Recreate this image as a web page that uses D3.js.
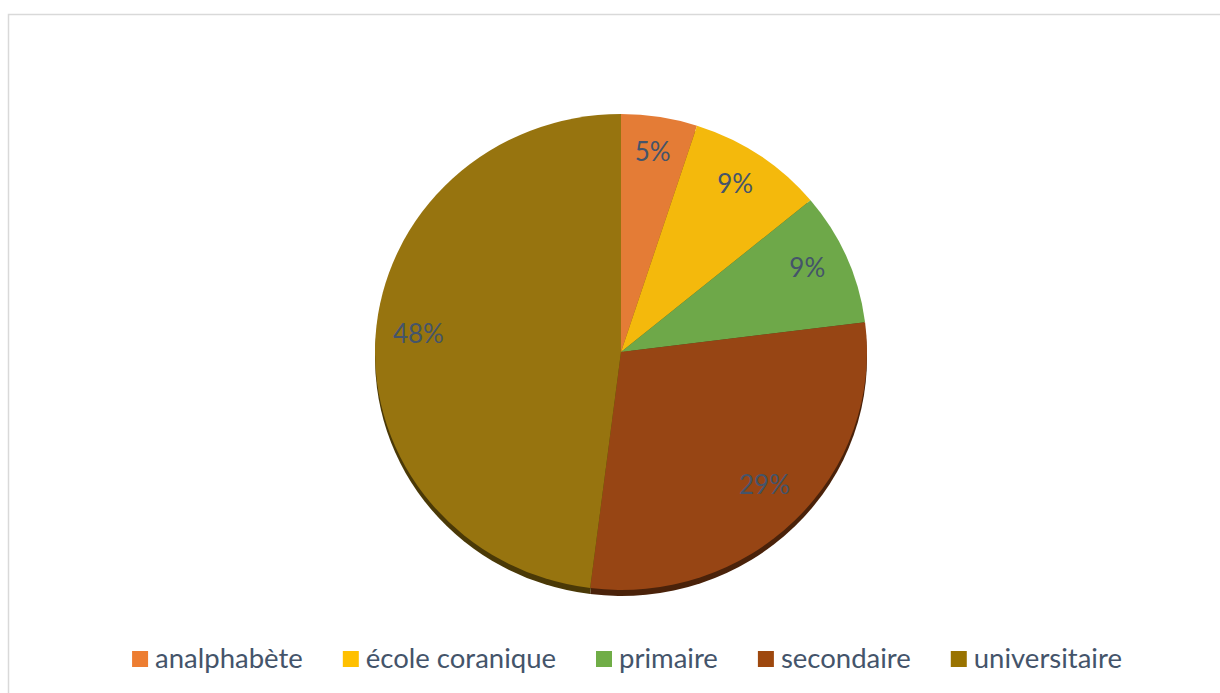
<!DOCTYPE html>
<head>
  <meta charset="utf-8">
  <script src="https://d3js.org/d3.v7.min.js"></script>
  <style>
    body { margin: 0; background: #fff; }
    svg { display: block; }
    text { font-family: Lato, "Open Sans", sans-serif; fill: #44546A; }
  </style>
</head>
<body>
<script>

// niveau d'instruction
var categories = ["analphabète", "école coranique", "primaire", "secondaire", "universitaire"];
var values = [5, 9, 9, 29, 48];
var labels = ["5%", "9%", "9%", "29%", "48%"];
var colors = ["#e47c36", "#f4b90c", "#6ea849", "#974514", "#97740f"];
var legendColors = ["#ed7d31", "#ffc000", "#70ad47", "#9e480e", "#997300"];

var width = 1220, height = 693;
var cx = 621, cy = 352, rx = 246, ry = 238;

var svg = d3.select("body").append("svg")
    .attr("width", width)
    .attr("height", height);

// chart frame
svg.append("rect")
    .attr("x", 8.5)
    .attr("y", 14.5)
    .attr("width", width)
    .attr("height", height)
    .style("fill", "none")
    .style("stroke", "#d9d9d9")
    .style("stroke-width", 1.5);

var pie = d3.pie().sort(null).value(function(d) { return d; });
var arcs = pie(values);

var arc = d3.arc().innerRadius(0).outerRadius(rx);
var labelArc = d3.arc().innerRadius(203).outerRadius(203);

// shadow under the pie
var shadow = svg.append("g")
    .attr("transform", "translate(" + cx + "," + (cy + 6) + ") scale(1," + (ry / rx) + ")");
shadow.selectAll("path")
    .data(arcs)
  .enter().append("path")
    .attr("d", arc)
    .style("fill", function(d, i) { return d3.color(colors[i]).darker(2); });

var g = svg.append("g")
    .attr("transform", "translate(" + cx + "," + cy + ") scale(1," + (ry / rx) + ")");

g.selectAll(".slice")
    .data(arcs)
  .enter().append("path")
    .attr("class", "slice")
    .attr("d", arc)
    .style("fill", function(d, i) { return colors[i]; });

svg.selectAll(".lbl")
    .data(arcs)
  .enter().append("text")
    .attr("class", "lbl")
    .attr("x", function(d) { return cx + labelArc.centroid(d)[0]; })
    .attr("y", function(d) { return cy - 6 + labelArc.centroid(d)[1] * ry / rx; })
    .attr("dy", "0.35em")
    .style("text-anchor", "middle")
    .style("font-size", "26px")
    .text(function(d, i) { return labels[i]; });

// legend
var legend = svg.append("g");
var items = legend.selectAll(".legend")
    .data(categories)
  .enter().append("g")
    .attr("class", "legend");

items.append("rect")
    .attr("y", 651)
    .attr("width", 16)
    .attr("height", 16)
    .style("fill", function(d, i) { return legendColors[i]; });

items.append("text")
    .attr("x", 23)
    .attr("y", 668)
    .style("font-size", "27.5px")
    .text(function(d) { return d; });

var xpos = 0;
items.each(function() {
  var w = d3.select(this).select("text").node().getComputedTextLength();
  d3.select(this).attr("transform", "translate(" + xpos + ",0)");
  xpos += 23 + w + 40;
});
var total = xpos - 40;
legend.attr("transform", "translate(" + (627 - total / 2) + ",0)");

</script>
</body>
